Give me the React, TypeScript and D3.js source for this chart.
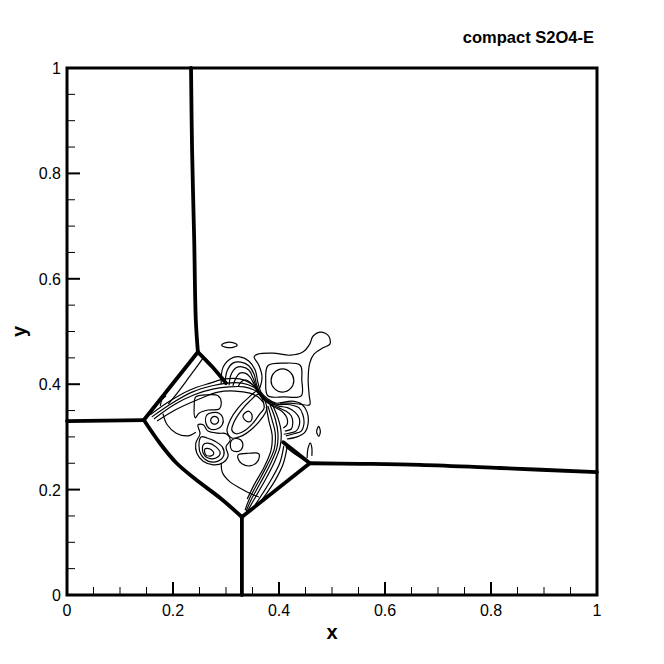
import React from 'react';
import * as d3 from 'd3';

type Pt = [number, number];

const title = 'compact S2O4-E';
const xLabel = 'x';
const yLabel = 'y';
const xTicks = [0, 0.2, 0.4, 0.6, 0.8, 1];
const xTickLabels = ['0', '0.2', '0.4', '0.6', '0.8', '1'];
const yTicks = [0, 0.2, 0.4, 0.6, 0.8, 1];
const yTickLabels = ['0', '0.2', '0.4', '0.6', '0.8', '1'];
const minorStep = 0.05;

// shocks (the thick, packed contour lines)
const shockTop: Pt[] = [[0.234, 1.0], [0.236, 0.844], [0.240, 0.674], [0.243, 0.522], [0.247, 0.461]];
const shockLeft: Pt[] = [[0, 0.330], [0.145, 0.332]];
const shockUpperDiag: Pt[] = [[0.145, 0.332], [0.247, 0.461]];
const shockLowerDiag: Pt[] = [[0.145, 0.332], [0.176, 0.287], [0.206, 0.251], [0.242, 0.220], [0.289, 0.184], [0.330, 0.148]];
const shockBottom: Pt[] = [[0.330, 0.148], [0.330, 0]];
const shockRightDiag: Pt[] = [[0.330, 0.148], [0.458, 0.250]];
const shockRight: Pt[] = [[0.458, 0.250], [0.553, 0.249], [0.666, 0.247], [0.817, 0.241], [1.0, 0.233]];
const shockInnerTop: Pt[] = [[0.247, 0.461], [0.274, 0.433], [0.300, 0.402]];
const shockInnerRight: Pt[] = [[0.458, 0.250], [0.432, 0.271], [0.408, 0.290]];

// open thin contours
const capArc0: Pt[] = [[0.291, 0.400], [0.294, 0.431], [0.308, 0.448], [0.326, 0.452], [0.343, 0.444], [0.355, 0.427], [0.360, 0.404], [0.366, 0.385], [0.379, 0.372], [0.394, 0.364], [0.425, 0.368], [0.443, 0.362], [0.453, 0.347], [0.455, 0.326], [0.449, 0.309], [0.434, 0.300], [0.415, 0.296]];
const capArc1: Pt[] = [[0.298, 0.400], [0.302, 0.425], [0.313, 0.440], [0.328, 0.442], [0.343, 0.435], [0.353, 0.419], [0.358, 0.398], [0.366, 0.381], [0.381, 0.368], [0.396, 0.362], [0.421, 0.361], [0.438, 0.355], [0.445, 0.342], [0.447, 0.324], [0.442, 0.311], [0.428, 0.306], [0.413, 0.302]];
const capArc2: Pt[] = [[0.306, 0.398], [0.309, 0.417], [0.319, 0.431], [0.330, 0.433], [0.343, 0.427], [0.351, 0.412], [0.358, 0.393], [0.368, 0.378], [0.383, 0.366], [0.398, 0.359], [0.417, 0.355], [0.430, 0.347], [0.438, 0.336], [0.438, 0.321], [0.432, 0.311], [0.419, 0.307], [0.409, 0.305]];
const capArc3: Pt[] = [[0.313, 0.397], [0.319, 0.412], [0.326, 0.421], [0.336, 0.421], [0.345, 0.414], [0.353, 0.400], [0.360, 0.387], [0.370, 0.374], [0.385, 0.362], [0.400, 0.355], [0.413, 0.349], [0.423, 0.340], [0.426, 0.326], [0.423, 0.315], [0.411, 0.311]];
const capArc4: Pt[] = [[0.323, 0.395], [0.328, 0.404], [0.338, 0.408], [0.347, 0.402], [0.355, 0.393], [0.362, 0.381], [0.372, 0.370], [0.387, 0.359], [0.402, 0.351], [0.409, 0.345], [0.415, 0.336], [0.415, 0.323], [0.408, 0.317]];

const tail0: Pt[] = [[0.387, 0.362], [0.398, 0.336], [0.404, 0.309], [0.402, 0.281], [0.389, 0.247], [0.370, 0.211], [0.351, 0.178], [0.340, 0.158]];
const tail1: Pt[] = [[0.383, 0.361], [0.393, 0.334], [0.398, 0.307], [0.396, 0.279], [0.383, 0.247], [0.364, 0.211], [0.347, 0.180], [0.338, 0.159]];
const tail2: Pt[] = [[0.379, 0.359], [0.387, 0.332], [0.393, 0.306], [0.391, 0.277], [0.377, 0.245], [0.359, 0.211], [0.343, 0.180], [0.336, 0.161]];
const tail3: Pt[] = [[0.376, 0.357], [0.381, 0.330], [0.387, 0.304], [0.385, 0.275], [0.372, 0.243], [0.353, 0.209], [0.340, 0.182]];

const lens0: Pt[] = [[0.157, 0.342], [0.194, 0.368], [0.232, 0.389], [0.270, 0.402], [0.298, 0.410], [0.326, 0.410], [0.349, 0.400], [0.360, 0.391]];
const lens1: Pt[] = [[0.160, 0.338], [0.198, 0.364], [0.236, 0.385], [0.274, 0.397], [0.302, 0.402], [0.330, 0.402], [0.351, 0.395], [0.362, 0.387]];
const lens2: Pt[] = [[0.164, 0.334], [0.202, 0.361], [0.240, 0.380], [0.277, 0.391], [0.306, 0.395], [0.334, 0.395], [0.353, 0.389], [0.364, 0.381]];
const lens3: Pt[] = [[0.170, 0.330], [0.204, 0.351], [0.245, 0.370], [0.285, 0.385], [0.317, 0.387], [0.345, 0.383], [0.360, 0.376], [0.370, 0.366]];

const innerTriangle: Pt[] = [[0.257, 0.450], [0.242, 0.429], [0.225, 0.406], [0.208, 0.383], [0.191, 0.362]];
const hookLeft: Pt[] = [[0.176, 0.359], [0.179, 0.370], [0.187, 0.378]];
const underLens: Pt[] = [[0.181, 0.344], [0.189, 0.323], [0.206, 0.307], [0.228, 0.302], [0.243, 0.309]];
const balloonOuter: Pt[] = [[0.364, 0.393], [0.368, 0.414], [0.362, 0.436], [0.353, 0.452], [0.360, 0.457], [0.389, 0.459], [0.421, 0.455], [0.445, 0.461], [0.458, 0.476], [0.464, 0.491], [0.479, 0.499], [0.494, 0.491], [0.496, 0.476], [0.483, 0.469], [0.466, 0.457], [0.458, 0.440], [0.455, 0.408], [0.457, 0.378], [0.458, 0.361], [0.440, 0.362], [0.421, 0.364], [0.402, 0.364]];
const bowl: Pt[] = [[0.291, 0.251], [0.293, 0.233], [0.306, 0.216], [0.326, 0.203], [0.347, 0.192], [0.362, 0.186]];
const nearShock0: Pt[] = [[0.409, 0.283], [0.402, 0.252], [0.387, 0.222], [0.370, 0.194], [0.355, 0.171]];
const nearShock1: Pt[] = [[0.415, 0.279], [0.408, 0.249], [0.393, 0.218], [0.376, 0.192], [0.360, 0.171]];
const belowShock: Pt[] = [[0.413, 0.281], [0.432, 0.266], [0.451, 0.254]];
const hookRight: Pt[] = [[0.453, 0.260], [0.455, 0.279], [0.459, 0.288], [0.462, 0.279], [0.462, 0.264]];

// closed thin contours
const ellipseTop: Pt[] = [[0.292, 0.474], [0.300, 0.479], [0.313, 0.479], [0.321, 0.474], [0.313, 0.470], [0.300, 0.470]];
const balloonSquare: Pt[] = [[0.379, 0.435], [0.409, 0.440], [0.440, 0.436], [0.443, 0.408], [0.442, 0.378], [0.409, 0.376], [0.379, 0.378], [0.375, 0.406]];
const balloonCore: Pt[] = [[0.428, 0.407], [0.422, 0.422], [0.407, 0.429], [0.391, 0.422], [0.385, 0.407], [0.391, 0.392], [0.407, 0.385], [0.422, 0.392]];
const stemLoop0: Pt[] = [[0.360, 0.387], [0.342, 0.374], [0.323, 0.355], [0.308, 0.332], [0.302, 0.311], [0.311, 0.298], [0.330, 0.302], [0.351, 0.317], [0.368, 0.336], [0.377, 0.355]];
const stemLoop1: Pt[] = [[0.362, 0.381], [0.345, 0.368], [0.328, 0.349], [0.315, 0.328], [0.311, 0.313], [0.319, 0.306], [0.334, 0.311], [0.351, 0.326], [0.364, 0.344], [0.372, 0.355]];
const stemBlob: Pt[] = [[0.332, 0.340], [0.342, 0.349], [0.349, 0.342], [0.347, 0.330], [0.338, 0.330]];
const roundRect: Pt[] = [[0.243, 0.376], [0.266, 0.380], [0.285, 0.378], [0.291, 0.366], [0.287, 0.353], [0.266, 0.351], [0.249, 0.345], [0.242, 0.336], [0.240, 0.359]];
const eyeCore: Pt[] = [[0.286, 0.331], [0.282, 0.338], [0.275, 0.338], [0.271, 0.331], [0.275, 0.325], [0.282, 0.325]];
const eyeRing: Pt[] = [[0.264, 0.342], [0.274, 0.346], [0.287, 0.345], [0.294, 0.336], [0.293, 0.323], [0.283, 0.315], [0.270, 0.315], [0.262, 0.326]];
const blob0: Pt[] = [[0.247, 0.323], [0.251, 0.306], [0.243, 0.288], [0.245, 0.269], [0.257, 0.254], [0.276, 0.247], [0.294, 0.251], [0.304, 0.264], [0.300, 0.281], [0.308, 0.294], [0.300, 0.306], [0.285, 0.307], [0.266, 0.311], [0.257, 0.323]];
const blob1: Pt[] = [[0.253, 0.300], [0.249, 0.283], [0.253, 0.266], [0.266, 0.254], [0.285, 0.254], [0.296, 0.266], [0.293, 0.281], [0.279, 0.292], [0.264, 0.298]];
const blob2: Pt[] = [[0.257, 0.285], [0.257, 0.269], [0.266, 0.260], [0.281, 0.260], [0.289, 0.269], [0.281, 0.281], [0.266, 0.288]];
const blob3: Pt[] = [[0.260, 0.277], [0.262, 0.266], [0.272, 0.264], [0.277, 0.269], [0.270, 0.277]];
const lowerEye: Pt[] = [[0.332, 0.285], [0.328, 0.294], [0.320, 0.297], [0.311, 0.294], [0.308, 0.285], [0.311, 0.275], [0.320, 0.272], [0.328, 0.275]];
const halfDisc: Pt[] = [[0.323, 0.266], [0.343, 0.269], [0.362, 0.268], [0.360, 0.254], [0.345, 0.245], [0.330, 0.249], [0.323, 0.258]];
const smallRight: Pt[] = [[0.478, 0.310], [0.475, 0.320], [0.471, 0.310], [0.475, 0.301]];

const shocks = [shockTop, shockLeft, shockUpperDiag, shockLowerDiag, shockBottom, shockRightDiag, shockRight, shockInnerTop, shockInnerRight];
const openLines = [capArc0, capArc1, capArc2, capArc3, capArc4, tail0, tail1, tail2, tail3, lens0, lens1, lens2, lens3,
  innerTriangle, hookLeft, underLens, balloonOuter, bowl, nearShock0, nearShock1, belowShock, hookRight];
const closedLines = [ellipseTop, balloonSquare, balloonCore, stemLoop0, stemLoop1, stemBlob, roundRect, eyeCore, eyeRing,
  blob0, blob1, blob2, blob3, lowerEye, halfDisc, smallRight];

const W = 664;
const H = 664;
const margin = { top: 68, right: 67, bottom: 69, left: 67 };
const font = '"Liberation Sans", Arial, Helvetica, sans-serif';

export default function App() {
  const x = d3.scaleLinear().domain([0, 1]).range([margin.left, W - margin.right]);
  const y = d3.scaleLinear().domain([0, 1]).range([H - margin.bottom, margin.top]);

  const openPath = d3.line<Pt>().x(d => x(d[0])).y(d => y(d[1])).curve(d3.curveCatmullRom.alpha(0.5));
  const closedPath = d3.line<Pt>().x(d => x(d[0])).y(d => y(d[1])).curve(d3.curveCatmullRomClosed.alpha(0.5));

  const minor = d3.range(0, 1 + 1e-9, minorStep).filter(v => !xTicks.some(t => Math.abs(t - v) < 1e-6));
  const x0 = x(0), x1 = x(1), y0 = y(0), y1 = y(1);

  return (
    <svg width={W} height={H} style={{ position: 'absolute', left: 0, top: 0, background: '#fff' }}>
      <rect width={W} height={H} fill="#fff" />

      {/* thin contours */}
      <g fill="none" stroke="#000" strokeWidth={1.2}>
        {openLines.map((c, i) => <path key={'o' + i} d={openPath(c) || ''} />)}
        {closedLines.map((c, i) => <path key={'c' + i} d={closedPath(c) || ''} />)}
      </g>

      {/* shocks */}
      <g fill="none" stroke="#000" strokeWidth={3.8} strokeLinejoin="round" strokeLinecap="round">
        {shocks.map((c, i) => <path key={'s' + i} d={openPath(c) || ''} />)}
      </g>

      {/* ticks */}
      <g stroke="#000">
        {xTicks.map(t => <line key={'xt' + t} x1={x(t)} x2={x(t)} y1={y0} y2={y0 - 13} strokeWidth={2} />)}
        {minor.map(t => <line key={'xm' + t} x1={x(t)} x2={x(t)} y1={y0} y2={y0 - 8} strokeWidth={1} />)}
        {yTicks.map(t => <line key={'yt' + t} x1={x0} x2={x0 + 13} y1={y(t)} y2={y(t)} strokeWidth={2} />)}
        {minor.map(t => <line key={'ym' + t} x1={x0} x2={x0 + 8} y1={y(t)} y2={y(t)} strokeWidth={1} />)}
      </g>

      {/* frame */}
      <rect x={x0} y={y1} width={x1 - x0} height={y0 - y1} fill="none" stroke="#000" strokeWidth={3} />

      {/* tick labels */}
      <g fontFamily={font} fontSize={16} fill="#000">
        {xTicks.map((t, i) => (
          <text key={'xl' + t} x={x(t)} y={y0 + 21} textAnchor="middle">{xTickLabels[i]}</text>
        ))}
        {yTicks.map((t, i) => (
          <text key={'yl' + t} x={x0 - 6} y={y(t) + 6} textAnchor="end">{yTickLabels[i]}</text>
        ))}
      </g>

      <text x={(x0 + x1) / 2} y={y0 + 44} textAnchor="middle" fontFamily={font} fontSize={20} fontWeight="bold">{xLabel}</text>
      <text transform={`translate(${x0 - 41}, ${(y0 + y1) / 2}) rotate(-90)`} textAnchor="middle" fontFamily={font} fontSize={20} fontWeight="bold">{yLabel}</text>
      <text x={594} y={43} textAnchor="end" fontFamily={font} fontSize={16.5} fontWeight="bold">{title}</text>
    </svg>
  );
}
